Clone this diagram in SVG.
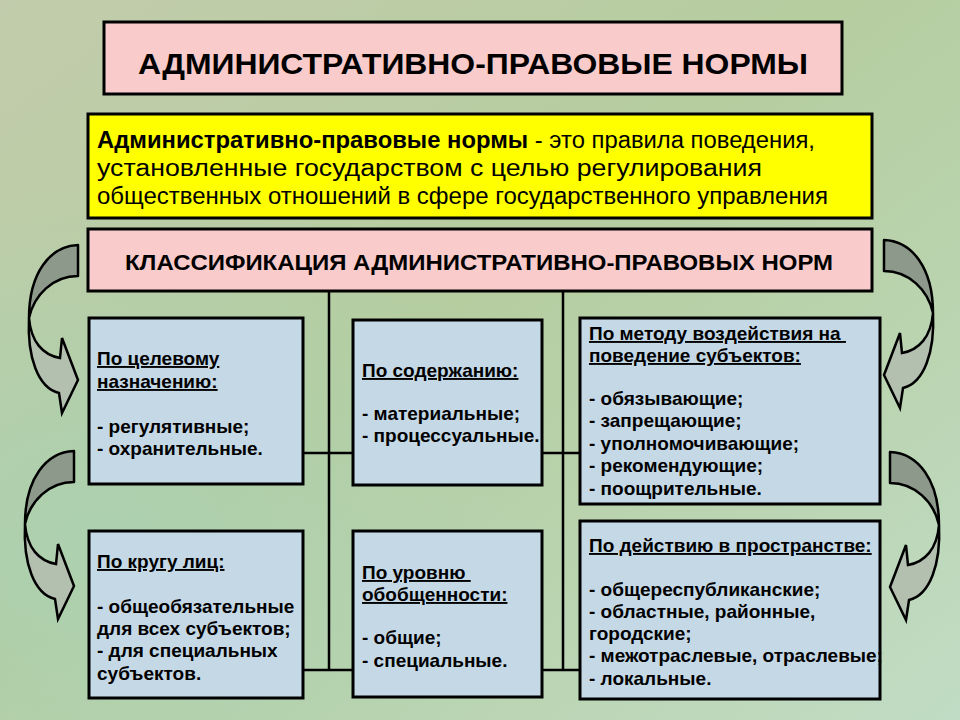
<svg xmlns="http://www.w3.org/2000/svg" xmlns:xlink="http://www.w3.org/1999/xlink" width="960" height="720" viewBox="0 0 960 720">
<defs>
<linearGradient id="bg" x1="0" y1="0" x2="1" y2="1">
<stop offset="0" stop-color="#C2CCAC"/>
<stop offset="0.45" stop-color="#B5CD9F"/>
<stop offset="1" stop-color="#C0DCC4"/>
</linearGradient>
<radialGradient id="bg2" cx="0.1" cy="0.75" r="0.5">
<stop offset="0" stop-color="#A9D2B6" stop-opacity="0.7"/>
<stop offset="1" stop-color="#A9D2B6" stop-opacity="0"/>
</radialGradient>
<g id="arrL">
<path class="arTop" d="M0,0 C-28,1 -49,28 -49,73 C-44,50 -25,31 0,31 Z"/>
<path class="arBot" d="M-49,73 C-47,97 -35,110 -18,113 L-16,93 L0,135 L-16,168 L-19,148 C-40,143 -51,112 -49,73 Z"/>
</g>
</defs>
<style>
.box{stroke:#000;stroke-width:3}
.pink{fill:#F9CBCB}
.yellow{fill:#FFFF00}
.blue{fill:#C4D8E6}
.t{font-family:"Liberation Sans",Arial,sans-serif;fill:#000}
.b{font-weight:bold}
.bt{font-family:"Liberation Sans",Arial,sans-serif;font-weight:bold;font-size:19px;fill:#000}
.u{text-decoration:underline}
.con{stroke:#000;stroke-width:2.5;fill:none}
.arTop{fill:#8D9A8B;stroke:#000;stroke-width:2.5;stroke-linejoin:round}
.arBot{fill:#B3BFAF;stroke:#000;stroke-width:2.5;stroke-linejoin:miter}
</style>
<rect x="0" y="0" width="960" height="720" fill="url(#bg)"/>
<rect x="0" y="0" width="960" height="720" fill="url(#bg2)"/>

<g id="title">
<rect class="box pink" x="104" y="22" width="738" height="72"/>
<text class="t b" x="138" y="74" font-size="30" textLength="670" lengthAdjust="spacingAndGlyphs">АДМИНИСТРАТИВНО-ПРАВОВЫЕ НОРМЫ</text>
</g>

<g id="definition">
<rect class="box yellow" x="88" y="114" width="784" height="104"/>
<text class="t" x="97" y="148" font-size="23" textLength="718" lengthAdjust="spacingAndGlyphs"><tspan class="b">Административно-правовые нормы</tspan> - это правила поведения,</text>
<text class="t" x="97" y="176" font-size="23" textLength="665" lengthAdjust="spacingAndGlyphs">установленные государством с целью регулирования</text>
<text class="t" x="97" y="204" font-size="23" textLength="731" lengthAdjust="spacingAndGlyphs">общественных отношений в сфере государственного управления</text>
</g>

<g id="classification">
<rect class="box pink" x="88" y="229" width="784" height="62"/>
<text class="t b" x="125" y="270" font-size="22" textLength="708" lengthAdjust="spacingAndGlyphs">КЛАССИФИКАЦИЯ АДМИНИСТРАТИВНО-ПРАВОВЫХ НОРМ</text>
</g>

<g id="connectors">
<line class="con" x1="329" y1="291" x2="329" y2="670"/>
<line class="con" x1="563" y1="291" x2="563" y2="670"/>
<line class="con" x1="303" y1="453" x2="353" y2="453"/>
<line class="con" x1="303" y1="670" x2="353" y2="670"/>
<line class="con" x1="542" y1="453" x2="580" y2="453"/>
<line class="con" x1="542" y1="670" x2="580" y2="670"/>
</g>

<g id="arrows">
<use xlink:href="#arrL" transform="translate(78,245)"/>
<use xlink:href="#arrL" transform="translate(74,451)"/>
<use xlink:href="#arrL" transform="translate(884,240) scale(-1,1)"/>
<use xlink:href="#arrL" transform="translate(890,452) scale(-1,1)"/>
</g>

<g id="purpose">
<rect class="box blue" x="89" y="318" width="214" height="166"/>
<text class="bt" x="97" y="365"><tspan class="u">По целевому</tspan></text>
<text class="bt" x="97" y="388"><tspan class="u">назначению:</tspan></text>
<text class="bt" x="97" y="433">- регулятивные;</text>
<text class="bt" x="97" y="455">- охранительные.</text>
</g>

<g id="content">
<rect class="box blue" x="353" y="320" width="189" height="165"/>
<text class="bt" x="362" y="377"><tspan class="u">По содержанию:</tspan></text>
<text class="bt" x="362" y="420">- материальные;</text>
<text class="bt" x="362" y="442">- процессуальные.</text>
</g>

<g id="method">
<rect class="box blue" x="580" y="318" width="300" height="186"/>
<text class="bt" x="589" y="340"><tspan class="u">По методу воздействия на&#160;</tspan></text>
<text class="bt" x="589" y="362"><tspan class="u">поведение субъектов:</tspan></text>
<text class="bt" x="589" y="405">- обязывающие;</text>
<text class="bt" x="589" y="427">- запрещающие;</text>
<text class="bt" x="589" y="450">- уполномочивающие;</text>
<text class="bt" x="589" y="472">- рекомендующие;</text>
<text class="bt" x="589" y="495">- поощрительные.</text>
</g>

<g id="persons">
<rect class="box blue" x="89" y="531" width="214" height="167"/>
<text class="bt" x="97" y="568"><tspan class="u">По кругу лиц:</tspan></text>
<text class="bt" x="97" y="613">- общеобязательные</text>
<text class="bt" x="97" y="635">для всех субъектов;</text>
<text class="bt" x="97" y="657">- для специальных</text>
<text class="bt" x="97" y="680">субъектов.</text>
</g>

<g id="generality">
<rect class="box blue" x="353" y="531" width="189" height="166"/>
<text class="bt" x="362" y="579"><tspan class="u">По уровню&#160;</tspan></text>
<text class="bt" x="362" y="601"><tspan class="u">обобщенности:</tspan></text>
<text class="bt" x="362" y="644">- общие;</text>
<text class="bt" x="362" y="667">- специальные.</text>
</g>

<g id="space">
<rect class="box blue" x="580" y="521" width="300" height="178"/>
<text class="bt" x="589" y="552"><tspan class="u">По действию в пространстве:</tspan></text>
<text class="bt" x="589" y="596">- общереспубликанские;</text>
<text class="bt" x="589" y="618">- областные, районные,</text>
<text class="bt" x="589" y="640">городские;</text>
<text class="bt" x="589" y="662">- межотраслевые, отраслевые;</text>
<text class="bt" x="589" y="685">- локальные.</text>
</g>
</svg>
